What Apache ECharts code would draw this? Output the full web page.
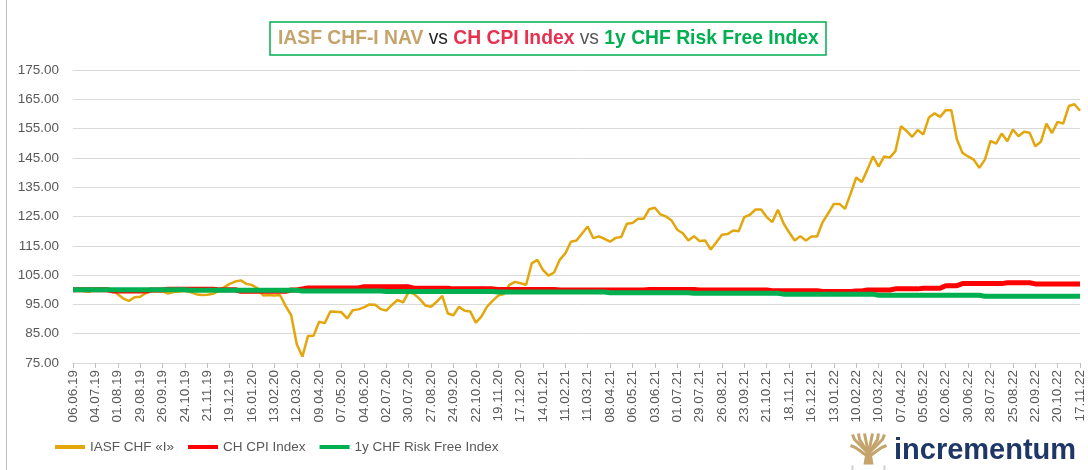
<!DOCTYPE html>
<html>
<head>
<meta charset="utf-8">
<script src="https://cdn.jsdelivr.net/npm/echarts@6/dist/echarts.min.js"></script>
<style>
html,body{margin:0;padding:0;background:#fff;}
#chart{width:1088px;height:470px;}
</style>
</head>
<body>
<div id="chart"></div>
<script>
// Weekly observation dates (Thursdays) from 06.06.19 to 17.11.22
const startDate = [2019, 5, 6];
const weekCount = 181;

// IASF CHF «I» NAV (rebased to 100)
const iasf = [
100.0,100.3,99.5,99.3,100.5,100.2,100.5,100.0,98.5,97.0,
96.2,97.4,97.6,98.8,99.5,99.6,99.5,98.7,99.2,99.4,
99.6,99.2,98.5,98.2,98.3,98.6,99.6,100.8,102.0,102.8,
103.2,102.0,101.6,100.5,98.0,98.2,98.0,98.2,94.5,91.3,
81.4,77.2,84.2,84.3,89.1,88.6,92.6,92.5,92.3,90.2,
93.0,93.3,94.0,95.0,94.9,93.4,92.9,94.8,96.5,95.7,
99.3,98.5,96.8,94.6,94.2,95.9,97.9,91.9,91.3,94.2,
92.8,92.6,88.8,90.8,94.2,96.2,98.0,98.5,101.7,102.7,
102.2,101.7,109.0,110.2,106.8,104.8,105.9,110.2,112.4,116.4,
116.8,119.2,121.6,117.6,118.2,117.4,116.4,117.7,118.0,122.5,
122.8,124.2,124.2,127.5,128.0,125.7,125.0,123.6,120.5,119.3,
116.8,118.3,116.6,116.8,113.7,116.2,118.8,119.0,120.2,120.0,
124.8,125.6,127.4,127.4,124.8,123.1,127.3,122.7,119.6,116.8,
118.3,116.8,118.2,118.2,123.1,126.1,129.3,129.3,127.6,132.8,
138.3,136.8,141.0,145.5,142.0,145.5,145.1,147.3,155.8,154.2,
152.2,154.5,153.0,158.8,160.2,159.0,161.3,161.3,151.3,146.7,
145.5,144.4,141.6,144.4,150.8,149.9,153.3,150.7,154.7,152.4,
153.9,153.6,149.0,150.5,156.7,153.5,157.3,156.7,162.7,163.3,
161.1
];

// CH CPI Index (rebased to 100)
const cpi = [
100.0,100.0,100.0,100.0,100.0,100.0,100.0,99.6,99.6,99.6,
99.6,99.6,99.6,99.6,99.9,99.9,99.9,100.2,100.2,100.2,
100.2,100.2,100.2,100.2,100.2,100.2,100.0,100.0,100.0,100.0,
99.5,99.5,99.5,99.5,99.5,99.5,99.5,99.5,99.5,99.9,
99.9,100.3,100.6,100.6,100.6,100.6,100.6,100.6,100.6,100.6,
100.6,100.6,101.0,101.0,101.0,101.0,101.0,101.0,101.0,101.0,
101.0,100.5,100.5,100.5,100.5,100.5,100.5,100.5,100.3,100.3,
100.3,100.3,100.3,100.3,100.3,100.3,100.1,100.1,100.1,100.1,
100.1,100.1,100.1,100.1,100.1,100.1,100.1,99.9,99.9,99.9,
99.9,99.9,99.9,99.9,99.9,99.9,99.9,99.9,99.9,99.9,
99.9,99.9,99.9,100.1,100.1,100.1,100.1,100.1,100.1,100.1,
100.1,100.1,99.9,99.9,99.9,99.9,99.9,99.9,99.9,99.9,
99.9,99.9,99.9,99.9,99.9,99.7,99.7,99.7,99.7,99.7,
99.7,99.7,99.7,99.7,99.4,99.4,99.4,99.4,99.4,99.4,
99.6,99.6,99.9,99.9,99.9,99.9,99.9,100.3,100.3,100.3,
100.3,100.3,100.5,100.5,100.5,100.5,101.4,101.4,101.4,102.1,
102.1,102.1,102.1,102.1,102.1,102.1,102.1,102.4,102.4,102.4,
102.4,102.4,102.0,102.0,102.0,102.0,102.0,102.0,102.0,102.0,
102.0
];

// 1y CHF Risk Free Index (rebased to 100)
const riskFree = [
100.0,100.0,100.0,100.0,100.0,100.0,100.0,100.0,100.0,100.0,
100.0,100.0,100.0,100.0,100.0,100.0,100.0,100.0,100.0,100.0,
100.0,99.8,99.8,99.8,99.8,99.8,99.8,99.8,99.8,99.8,
99.8,99.8,99.8,99.8,99.8,99.8,99.8,99.8,99.8,99.8,
99.8,99.6,99.6,99.6,99.6,99.6,99.6,99.6,99.6,99.6,
99.6,99.6,99.6,99.6,99.6,99.6,99.4,99.4,99.4,99.4,
99.4,99.4,99.4,99.4,99.4,99.4,99.4,99.4,99.4,99.4,
99.4,99.4,99.4,99.4,99.4,99.4,99.2,99.2,99.2,99.2,
99.2,99.2,99.2,99.2,99.2,99.2,99.2,99.2,99.2,99.2,
99.2,99.2,99.2,99.2,99.2,99.2,99.0,99.0,99.0,99.0,
99.0,99.0,99.0,99.0,99.0,99.0,99.0,99.0,99.0,99.0,
99.0,98.8,98.8,98.8,98.8,98.8,98.8,98.8,98.8,98.8,
98.8,98.8,98.8,98.8,98.8,98.8,98.8,98.5,98.5,98.5,
98.5,98.5,98.5,98.5,98.5,98.5,98.5,98.5,98.5,98.5,
98.5,98.5,98.5,98.5,98.1,98.1,98.1,98.1,98.1,98.1,
98.1,98.1,98.1,98.1,98.1,98.1,98.1,98.1,98.1,98.1,
98.1,98.1,98.1,97.8,97.8,97.8,97.8,97.8,97.8,97.8,
97.8,97.8,97.8,97.8,97.8,97.8,97.8,97.8,97.8,97.8,
97.8
];

const seriesNames = ['IASF CHF «I»', 'CH CPI Index', '1y CHF Risk Free Index'];
const yTicks = { min: 75, max: 175, step: 10 };

function pad(n){ return (n < 10 ? '0' : '') + n; }
const categories = [];
for (let i = 0; i < weekCount; i++) {
  const d = new Date(Date.UTC(startDate[0], startDate[1], startDate[2] + 7 * i));
  categories.push(pad(d.getUTCDate()) + '.' + pad(d.getUTCMonth() + 1) + '.' + String(d.getUTCFullYear()).slice(2));
}

const FONT = '"Liberation Sans", Arial, sans-serif';
const TS = 19.3;
const chart = echarts.init(document.getElementById('chart'), null, { renderer: 'canvas' });

const option = {
  animation: false,
  backgroundColor: '#ffffff',
  title: {
    left: 270,
    top: 22,
    padding: [7, 8, 7, 8],
    borderColor: '#00B050',
    borderWidth: 1.5,
    text: '{a|IASF CHF-I NAV} {b|vs} {c|CH CPI Index} {d|vs} {e|1y CHF Risk Free Index}',
    textStyle: {
      fontFamily: FONT,
      fontSize: TS,
      fontWeight: 'bold',
      rich: {
        a: { color: '#C4A46B', fontSize: TS, fontWeight: 'bold', fontFamily: FONT },
        b: { color: '#262626', fontSize: TS, fontWeight: 'normal', fontFamily: FONT },
        c: { color: '#E8304F', fontSize: TS, fontWeight: 'bold', fontFamily: FONT },
        d: { color: '#595959', fontSize: TS, fontWeight: 'normal', fontFamily: FONT },
        e: { color: '#00B050', fontSize: TS, fontWeight: 'bold', fontFamily: FONT }
      }
    }
  },
  legend: {
    left: 50,
    top: 435,
    itemWidth: 30,
    itemHeight: 4,
    itemGap: 14,
    icon: 'rect',
    textStyle: { color: '#595959', fontSize: 13.5, fontFamily: FONT },
    data: seriesNames
  },
  grid: { left: 73, right: 8, top: 70, bottom: 107 },
  xAxis: {
    type: 'category',
    data: categories,
    boundaryGap: false,
    axisLine: { lineStyle: { color: '#D9D9D9', width: 1 } },
    axisTick: { show: true, interval: 3, length: 5, lineStyle: { color: '#BFBFBF' } },
    axisLabel: {
      interval: 3,
      rotate: 90,
      margin: 7,
      color: '#595959',
      fontSize: 13.5,
      fontFamily: FONT
    },
    splitLine: { show: false }
  },
  yAxis: {
    type: 'value',
    min: yTicks.min,
    max: yTicks.max,
    interval: yTicks.step,
    axisLine: { show: false },
    axisTick: { show: false },
    axisLabel: {
      color: '#595959',
      fontSize: 13.5,
      fontFamily: FONT,
      margin: 14,
      formatter: function (v) { return v.toFixed(2); }
    },
    splitLine: { lineStyle: { color: '#D9D9D9', width: 1 } }
  },
  series: [
    { name: seriesNames[0], type: 'line', data: iasf, showSymbol: false, symbol: 'none',
      lineStyle: { color: '#E3A60C', width: 2.5 }, itemStyle: { color: '#E3A60C' } },
    { name: seriesNames[1], type: 'line', data: cpi, showSymbol: false, symbol: 'none',
      lineStyle: { color: '#FF0000', width: 5 }, itemStyle: { color: '#FF0000' } },
    { name: seriesNames[2], type: 'line', data: riskFree, showSymbol: false, symbol: 'none',
      lineStyle: { color: '#00B050', width: 5 }, itemStyle: { color: '#00B050' } }
  ],
  graphic: [
    { type: 'line', shape: { x1: 6.5, y1: 0, x2: 6.5, y2: 470 }, style: { stroke: '#BFBFBF', lineWidth: 1 } },
    { type: 'group', left: 848, top: 431, children: [
      { type: 'polygon', shape: { points: [[13,31],[23,31],[21,19],[15,19]] }, style: { fill: '#C4A46B' } },
      { type: 'polyline', shape: { points: [[18,20],[4,6],[2,1]] }, style: { stroke: '#C4A46B', lineWidth: 3, fill: null } },
      { type: 'polyline', shape: { points: [[18,20],[9,6],[8,0]] }, style: { stroke: '#C4A46B', lineWidth: 3, fill: null } },
      { type: 'polyline', shape: { points: [[18,20],[15,5],[14,0]] }, style: { stroke: '#C4A46B', lineWidth: 3, fill: null } },
      { type: 'polyline', shape: { points: [[18,20],[21,5],[22,0]] }, style: { stroke: '#C4A46B', lineWidth: 3, fill: null } },
      { type: 'polyline', shape: { points: [[18,20],[27,6],[28,0]] }, style: { stroke: '#C4A46B', lineWidth: 3, fill: null } },
      { type: 'polyline', shape: { points: [[18,20],[32,6],[34,1]] }, style: { stroke: '#C4A46B', lineWidth: 3, fill: null } },
      { type: 'polyline', shape: { points: [[16,22],[5,14],[0,12]] }, style: { stroke: '#C4A46B', lineWidth: 3, fill: null } },
      { type: 'polyline', shape: { points: [[20,22],[31,14],[36,12]] }, style: { stroke: '#C4A46B', lineWidth: 3, fill: null } },
      { type: 'polyline', shape: { points: [[2,32],[2,38],[10,38]] }, style: { stroke: '#D0D0D0', lineWidth: 2, fill: null } },
      { type: 'polyline', shape: { points: [[34,32],[34,38],[26,38]] }, style: { stroke: '#D0D0D0', lineWidth: 2, fill: null } }
    ]},
    { type: 'text', left: 894, top: 436, style: { text: 'incrementum', fill: '#1E3766',
      font: 'bold 29px "Liberation Sans", Arial, sans-serif' } }
  ]
};
chart.setOption(option);
</script>
</body>
</html>
